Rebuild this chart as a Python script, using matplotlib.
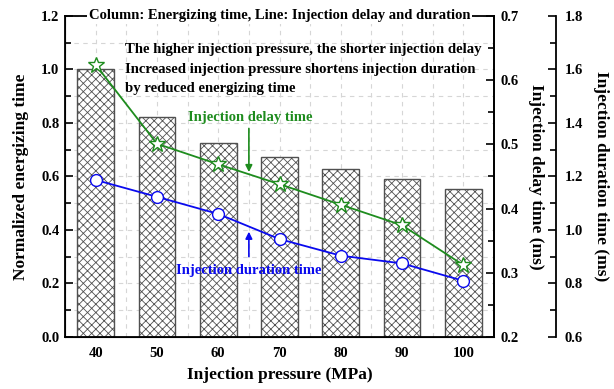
import matplotlib
matplotlib.use("Agg")
import matplotlib.pyplot as plt
from matplotlib.ticker import MultipleLocator

plt.rcParams['font.family'] = ['Liberation Serif', 'DejaVu Serif']
plt.rcParams['font.weight'] = 'bold'
plt.rcParams['axes.labelweight'] = 'bold'
plt.rcParams['hatch.color'] = '#8c8c8c'
plt.rcParams['hatch.linewidth'] = 0.6

pressure = [40, 50, 60, 70, 80, 90, 100]
energizing = [1.0, 0.821, 0.724, 0.672, 0.627, 0.591, 0.554]
delay = [0.624, 0.501, 0.469, 0.438, 0.406, 0.374, 0.312]
duration = [1.187, 1.124, 1.060, 0.966, 0.904, 0.875, 0.810]

fig = plt.figure(figsize=(6.14, 3.89), dpi=100)
ax = fig.add_axes([0.1059, 0.1337, 0.6987, 0.8252])
ax2 = ax.twinx()
ax3 = ax.twinx()

# columns: normalized energizing time
ax.bar(pressure, energizing, width=6, color='white', edgecolor='#505050',
       linewidth=1.0, hatch='xxxx', zorder=2)
ax.set_xlim(35, 105)
ax.set_ylim(0, 1.2)
ax.set_xticks(pressure)
ax.xaxis.set_minor_locator(MultipleLocator(5))
ax.yaxis.set_major_locator(MultipleLocator(0.2))
ax.yaxis.set_minor_locator(MultipleLocator(0.1))
ax.set_yticklabels(['%.1f' % v for v in ax.get_yticks()])
ax.tick_params(axis='x', which='both', length=0, pad=7, labelsize=10.5)
ax.tick_params(axis='y', which='major', direction='in', length=6, width=1.2, labelsize=10.5, pad=4)
ax.tick_params(axis='y', which='minor', direction='in', length=4, width=1.2)
ax.grid(True, which='both', color='#d6d6d6', linestyle=(0, (4, 4)), linewidth=0.8)
ax.set_axisbelow(True)
ax.set_xlabel('Injection pressure (MPa)', fontsize=12.5, labelpad=5)
ax.set_ylabel('Normalized energizing time', fontsize=12.5)
ax.yaxis.set_label_coords(-0.084, 0.5)
for s in ax.spines.values():
    s.set_linewidth(1.3)

# line: injection delay time
ax2.plot(pressure, delay, color='#1e8c1e', linewidth=1.3, marker='*', markersize=12,
         markerfacecolor='white', markeredgecolor='#1e8c1e', markeredgewidth=1.0)
ax2.set_ylim(0.2, 0.7)
ax2.yaxis.set_major_locator(MultipleLocator(0.1))
ax2.yaxis.set_minor_locator(MultipleLocator(0.05))
ax2.set_yticklabels(['%.1f' % v for v in ax2.get_yticks()])
ax2.tick_params(axis='y', which='major', direction='in', length=6, width=1.2, labelsize=10.5, pad=5)
ax2.tick_params(axis='y', which='minor', direction='in', length=4, width=1.2)
ax2.set_ylabel('Injection delay time (ms)', fontsize=12.5, rotation=270)
ax2.yaxis.set_label_coords(1.116, 0.5)
ax2.spines['top'].set_visible(False)
ax2.spines['right'].set_linewidth(1.3)

# line: injection duration time
ax3.plot(pressure, duration, color='#0a0aee', linewidth=1.3, marker='o', markersize=8.5,
         markerfacecolor='white', markeredgecolor='#0a0aee', markeredgewidth=1.0)
ax3.set_ylim(0.6, 1.8)
ax3.spines['right'].set_position(('axes', 1.1445))
ax3.yaxis.set_major_locator(MultipleLocator(0.2))
ax3.yaxis.set_minor_locator(MultipleLocator(0.1))
ax3.set_yticklabels(['%.1f' % v for v in ax3.get_yticks()])
ax3.tick_params(axis='y', which='major', direction='in', length=6, width=1.2, labelsize=10.5, pad=6)
ax3.tick_params(axis='y', which='minor', direction='in', length=4, width=1.2)
ax3.set_ylabel('Injection duration time (ms)', fontsize=12.5, rotation=270)
ax3.yaxis.set_label_coords(1.268, 0.5)
for side in ['top', 'left', 'bottom']:
    ax3.spines[side].set_visible(False)
ax3.spines['right'].set_linewidth(1.3)

# title sitting on the top frame
ax3.text(0.5, 1.0, 'Column: Energizing time, Line: Injection delay and duration',
         transform=ax3.transAxes, ha='center', va='center', fontsize=10.5,
         bbox=dict(facecolor='white', edgecolor='none', pad=1))

ax3.text(44.8, 1.0, 'The higher injection pressure, the shorter injection delay\n'
         'Increased injection pressure shortens injection duration\n'
         'by reduced energizing time',
         transform=ax.transData, ha='left', va='center', fontsize=10.6, linespacing=1.65)

ax3.annotate('', xy=(65, 0.606), xytext=(65, 0.79), xycoords=ax.transData,
             textcoords=ax.transData,
             arrowprops=dict(arrowstyle='-|>', color='#1e8c1e', lw=1.2, mutation_scale=10))
ax3.text(65.2, 0.822, 'Injection delay time', transform=ax.transData, color='#1e8c1e',
         ha='center', va='center', fontsize=10.5)

ax3.annotate('', xy=(65, 0.404), xytext=(65, 0.29), xycoords=ax.transData,
             textcoords=ax.transData,
             arrowprops=dict(arrowstyle='-|>', color='#0a0aee', lw=1.2, mutation_scale=10))
ax3.text(65.0, 0.25, 'Injection duration time', transform=ax.transData, color='#0a0aee',
         ha='center', va='center', fontsize=10.5)

fig.savefig('out.png', dpi=100)
